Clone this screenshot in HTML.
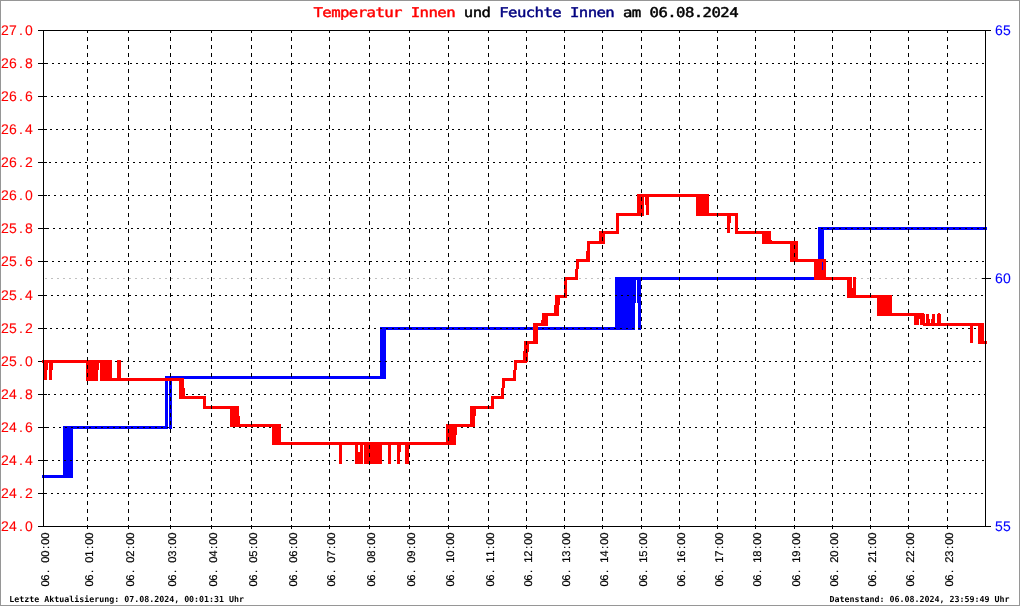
<!DOCTYPE html>
<html lang="de"><head><meta charset="utf-8"><title>Temperatur Innen und Feuchte Innen am 06.08.2024</title>
<style>html,body{margin:0;padding:0;background:#fff}svg{display:block}</style></head>
<body>
<svg width="1020" height="606" viewBox="0 0 1020 606" shape-rendering="crispEdges">
<rect x="0" y="0" width="1020" height="606" fill="#fff"/>
<rect x="0.5" y="0.5" width="1019" height="605" fill="none" stroke="#969696" stroke-width="1"/>
<path d="M45 278.5H985" stroke="#c0c0c0" stroke-width="1" stroke-dasharray="2 4" fill="none"/>
<g><rect x="42" y="475" width="24" height="3" fill="#0000ff"/><rect x="63" y="426" width="10" height="52" fill="#0000ff"/><rect x="63" y="426" width="105" height="3" fill="#0000ff"/><rect x="165" y="376" width="3" height="53" fill="#0000ff"/><rect x="169" y="376" width="3" height="53" fill="#0000ff"/><rect x="165" y="376" width="218" height="3" fill="#0000ff"/><rect x="380" y="327" width="6" height="52" fill="#0000ff"/><rect x="380" y="327" width="238" height="3" fill="#0000ff"/><rect x="615" y="277" width="20" height="53" fill="#0000ff"/><rect x="635" y="277" width="1" height="26" fill="#0000ff"/><rect x="637" y="277" width="1" height="26" fill="#0000ff"/><rect x="638" y="277" width="3" height="53" fill="#0000ff"/><rect x="615" y="277" width="207" height="3" fill="#0000ff"/><rect x="818" y="227" width="6" height="53" fill="#0000ff"/><rect x="818" y="227" width="169" height="3" fill="#0000ff"/></g>
<path d="M46 63.5H985M45 96.5H985M44 129.5H985M49 162.5H985M48 195.5H985M47 228.5H985M46 261.5H985M45 295.5H985M44 328.5H985M49 361.5H985M48 394.5H985M47 427.5H985M46 460.5H985M45 493.5H985" stroke="#000" stroke-width="1" stroke-dasharray="2 4" fill="none"/>
<path d="M38 63.5H47M38 96.5H47M38 129.5H47M38 162.5H47M38 195.5H47M38 228.5H47M38 261.5H47M38 295.5H47M38 328.5H47M38 361.5H47M38 394.5H47M38 427.5H47M38 460.5H47M38 493.5H47" stroke="#000" stroke-width="1" fill="none"/>
<g><rect x="42" y="360" width="46" height="3" fill="#ff0000"/><rect x="44" y="360" width="4" height="10" fill="#ff0000"/><rect x="44" y="360" width="3" height="20" fill="#ff0000"/><rect x="49" y="360" width="4" height="10" fill="#ff0000"/><rect x="49" y="360" width="3" height="20" fill="#ff0000"/><rect x="86" y="360" width="12" height="21" fill="#ff0000"/><rect x="100" y="360" width="12" height="21" fill="#ff0000"/><rect x="98" y="360" width="2" height="3" fill="#ff0000"/><rect x="98" y="360" width="1" height="10" fill="#ff0000"/><rect x="100" y="378" width="82" height="3" fill="#ff0000"/><rect x="117" y="360" width="4" height="21" fill="#ff0000"/><rect x="179" y="378" width="5" height="21" fill="#ff0000"/><rect x="184" y="388" width="1" height="11" fill="#ff0000"/><rect x="183" y="396" width="23" height="3" fill="#ff0000"/><rect x="203" y="396" width="3" height="13" fill="#ff0000"/><rect x="203" y="406" width="30" height="3" fill="#ff0000"/><rect x="230" y="406" width="9" height="21" fill="#ff0000"/><rect x="239" y="416" width="1" height="11" fill="#ff0000"/><rect x="237" y="424" width="38" height="3" fill="#ff0000"/><rect x="272" y="424" width="9" height="21" fill="#ff0000"/><rect x="279" y="442" width="170" height="3" fill="#ff0000"/><rect x="339" y="442" width="3" height="22" fill="#ff0000"/><rect x="355" y="442" width="3" height="22" fill="#ff0000"/><rect x="360" y="442" width="3" height="22" fill="#ff0000"/><rect x="388" y="442" width="3" height="22" fill="#ff0000"/><rect x="397" y="442" width="3" height="22" fill="#ff0000"/><rect x="405" y="442" width="4" height="22" fill="#ff0000"/><rect x="358" y="452" width="2" height="12" fill="#ff0000"/><rect x="400" y="442" width="1" height="10" fill="#ff0000"/><rect x="364" y="442" width="18" height="22" fill="#ff0000"/><rect x="446" y="424" width="10" height="21" fill="#ff0000"/><rect x="456" y="424" width="1" height="11" fill="#ff0000"/><rect x="454" y="424" width="19" height="3" fill="#ff0000"/><rect x="470" y="406" width="5" height="21" fill="#ff0000"/><rect x="475" y="406" width="1" height="10" fill="#ff0000"/><rect x="473" y="406" width="21" height="3" fill="#ff0000"/><rect x="491" y="396" width="3" height="13" fill="#ff0000"/><rect x="491" y="396" width="13" height="3" fill="#ff0000"/><rect x="501" y="388" width="3" height="11" fill="#ff0000"/><rect x="502" y="378" width="3" height="10" fill="#ff0000"/><rect x="503" y="378" width="13" height="3" fill="#ff0000"/><rect x="513" y="370" width="3" height="11" fill="#ff0000"/><rect x="514" y="360" width="3" height="10" fill="#ff0000"/><rect x="515" y="360" width="12" height="3" fill="#ff0000"/><rect x="523" y="351" width="3" height="12" fill="#ff0000"/><rect x="524" y="341" width="3" height="10" fill="#ff0000"/><rect x="526" y="341" width="2" height="21" fill="#ff0000"/><rect x="528" y="341" width="1" height="11" fill="#ff0000"/><rect x="526" y="341" width="11" height="3" fill="#ff0000"/><rect x="533" y="323" width="5" height="21" fill="#ff0000"/><rect x="536" y="323" width="9" height="3" fill="#ff0000"/><rect x="542" y="313" width="6" height="13" fill="#ff0000"/><rect x="541" y="320" width="1" height="6" fill="#ff0000"/><rect x="546" y="313" width="12" height="3" fill="#ff0000"/><rect x="554" y="305" width="3" height="11" fill="#ff0000"/><rect x="555" y="295" width="3" height="10" fill="#ff0000"/><rect x="557" y="295" width="2" height="21" fill="#ff0000"/><rect x="559" y="295" width="1" height="10" fill="#ff0000"/><rect x="557" y="295" width="10" height="3" fill="#ff0000"/><rect x="564" y="277" width="3" height="21" fill="#ff0000"/><rect x="564" y="277" width="14" height="3" fill="#ff0000"/><rect x="575" y="269" width="3" height="11" fill="#ff0000"/><rect x="576" y="259" width="3" height="10" fill="#ff0000"/><rect x="577" y="259" width="13" height="3" fill="#ff0000"/><rect x="586" y="251" width="3" height="11" fill="#ff0000"/><rect x="587" y="241" width="3" height="10" fill="#ff0000"/><rect x="589" y="241" width="1" height="21" fill="#ff0000"/><rect x="588" y="241" width="15" height="3" fill="#ff0000"/><rect x="599" y="231" width="6" height="13" fill="#ff0000"/><rect x="602" y="231" width="17" height="3" fill="#ff0000"/><rect x="616" y="213" width="3" height="21" fill="#ff0000"/><rect x="616" y="213" width="25" height="3" fill="#ff0000"/><rect x="637" y="194" width="7" height="22" fill="#ff0000"/><rect x="641" y="194" width="58" height="3" fill="#ff0000"/><rect x="646" y="194" width="3" height="21" fill="#ff0000"/><rect x="645" y="194" width="1" height="11" fill="#ff0000"/><rect x="696" y="194" width="13" height="22" fill="#ff0000"/><rect x="707" y="213" width="31" height="3" fill="#ff0000"/><rect x="727" y="213" width="3" height="20" fill="#ff0000"/><rect x="730" y="213" width="1" height="10" fill="#ff0000"/><rect x="735" y="213" width="3" height="21" fill="#ff0000"/><rect x="735" y="231" width="29" height="3" fill="#ff0000"/><rect x="762" y="231" width="9" height="13" fill="#ff0000"/><rect x="771" y="240" width="1" height="4" fill="#ff0000"/><rect x="769" y="241" width="23" height="3" fill="#ff0000"/><rect x="790" y="241" width="8" height="21" fill="#ff0000"/><rect x="796" y="259" width="21" height="3" fill="#ff0000"/><rect x="814" y="259" width="12" height="21" fill="#ff0000"/><rect x="822" y="262" width="1" height="8" fill="#0000ff"/><rect x="824" y="277" width="26" height="3" fill="#ff0000"/><rect x="847" y="277" width="5" height="21" fill="#ff0000"/><rect x="853" y="277" width="3" height="21" fill="#ff0000"/><rect x="852" y="288" width="1" height="10" fill="#ff0000"/><rect x="854" y="295" width="26" height="3" fill="#ff0000"/><rect x="877" y="295" width="15" height="21" fill="#ff0000"/><rect x="889" y="313" width="27" height="3" fill="#ff0000"/><rect x="913" y="313" width="11" height="3" fill="#ff0000"/><rect x="914" y="313" width="5" height="12" fill="#ff0000"/><rect x="919" y="313" width="1" height="6" fill="#ff0000"/><rect x="920" y="314" width="5" height="11" fill="#ff0000"/><rect x="926" y="314" width="3" height="9" fill="#ff0000"/><rect x="929" y="319" width="1" height="4" fill="#ff0000"/><rect x="932" y="314" width="3" height="9" fill="#ff0000"/><rect x="931" y="319" width="1" height="4" fill="#ff0000"/><rect x="937" y="314" width="4" height="9" fill="#ff0000"/><rect x="938" y="313" width="2" height="1" fill="#ff0000"/><rect x="923" y="323" width="60" height="3" fill="#ff0000"/><rect x="970" y="323" width="3" height="20" fill="#ff0000"/><rect x="978" y="323" width="6" height="21" fill="#ff0000"/><rect x="978" y="341" width="9" height="3" fill="#ff0000"/></g>
<path d="M87.5 30V529M128.5 30V529M170.5 30V529M211.5 30V529M251.5 30V529M291.5 30V529M329.5 30V529M369.5 30V529M409.5 30V529M448.5 30V529M488.5 30V529M526.5 30V529M564.5 30V529M602.5 30V529M641.5 30V529M679.5 30V529M717.5 30V529M755.5 30V529M794.5 30V529M832.5 30V529M870.5 30V529M908.5 30V529M947.5 30V529" stroke="#000" stroke-width="1" stroke-dasharray="4 4" stroke-dashoffset="1" fill="none"/>
<path d="M38 30.5H991M38 526.5H991M43.5 30V527M985.5 30V527" stroke="#000" stroke-width="1" fill="none"/>
<path d="M982 278.5H991" stroke="#000" stroke-width="1" fill="none"/>
<g font-family="'DejaVu Sans Mono','Liberation Mono',monospace" shape-rendering="auto" text-rendering="geometricPrecision" style="opacity:0.999">
<text x="1.11 9.11 19.05 25.11" y="35" font-size="14" fill="#ff0000" stroke="#ff0000" stroke-width="0.1" font-family="'Liberation Sans',Arial,sans-serif"  xml:space="preserve">27.0</text>
<text x="1.11 9.11 19.05 25.11" y="68" font-size="14" fill="#ff0000" stroke="#ff0000" stroke-width="0.1" font-family="'Liberation Sans',Arial,sans-serif"  xml:space="preserve">26.8</text>
<text x="1.11 9.11 19.05 25.11" y="101" font-size="14" fill="#ff0000" stroke="#ff0000" stroke-width="0.1" font-family="'Liberation Sans',Arial,sans-serif"  xml:space="preserve">26.6</text>
<text x="1.11 9.11 19.05 25.11" y="134" font-size="14" fill="#ff0000" stroke="#ff0000" stroke-width="0.1" font-family="'Liberation Sans',Arial,sans-serif"  xml:space="preserve">26.4</text>
<text x="1.11 9.11 19.05 25.11" y="167" font-size="14" fill="#ff0000" stroke="#ff0000" stroke-width="0.1" font-family="'Liberation Sans',Arial,sans-serif"  xml:space="preserve">26.2</text>
<text x="1.11 9.11 19.05 25.11" y="200" font-size="14" fill="#ff0000" stroke="#ff0000" stroke-width="0.1" font-family="'Liberation Sans',Arial,sans-serif"  xml:space="preserve">26.0</text>
<text x="1.11 9.11 19.05 25.11" y="233" font-size="14" fill="#ff0000" stroke="#ff0000" stroke-width="0.1" font-family="'Liberation Sans',Arial,sans-serif"  xml:space="preserve">25.8</text>
<text x="1.11 9.11 19.05 25.11" y="266" font-size="14" fill="#ff0000" stroke="#ff0000" stroke-width="0.1" font-family="'Liberation Sans',Arial,sans-serif"  xml:space="preserve">25.6</text>
<text x="1.11 9.11 19.05 25.11" y="300" font-size="14" fill="#ff0000" stroke="#ff0000" stroke-width="0.1" font-family="'Liberation Sans',Arial,sans-serif"  xml:space="preserve">25.4</text>
<text x="1.11 9.11 19.05 25.11" y="333" font-size="14" fill="#ff0000" stroke="#ff0000" stroke-width="0.1" font-family="'Liberation Sans',Arial,sans-serif"  xml:space="preserve">25.2</text>
<text x="1.11 9.11 19.05 25.11" y="366" font-size="14" fill="#ff0000" stroke="#ff0000" stroke-width="0.1" font-family="'Liberation Sans',Arial,sans-serif"  xml:space="preserve">25.0</text>
<text x="1.11 9.11 19.05 25.11" y="399" font-size="14" fill="#ff0000" stroke="#ff0000" stroke-width="0.1" font-family="'Liberation Sans',Arial,sans-serif"  xml:space="preserve">24.8</text>
<text x="1.11 9.11 19.05 25.11" y="432" font-size="14" fill="#ff0000" stroke="#ff0000" stroke-width="0.1" font-family="'Liberation Sans',Arial,sans-serif"  xml:space="preserve">24.6</text>
<text x="1.11 9.11 19.05 25.11" y="465" font-size="14" fill="#ff0000" stroke="#ff0000" stroke-width="0.1" font-family="'Liberation Sans',Arial,sans-serif"  xml:space="preserve">24.4</text>
<text x="1.11 9.11 19.05 25.11" y="498" font-size="14" fill="#ff0000" stroke="#ff0000" stroke-width="0.1" font-family="'Liberation Sans',Arial,sans-serif"  xml:space="preserve">24.2</text>
<text x="1.11 9.11 19.05 25.11" y="531" font-size="14" fill="#ff0000" stroke="#ff0000" stroke-width="0.1" font-family="'Liberation Sans',Arial,sans-serif"  xml:space="preserve">24.0</text>
<text x="995.11 1003.11" y="35" font-size="14" fill="#0000ff" stroke="#0000ff" stroke-width="0.1" font-family="'Liberation Sans',Arial,sans-serif"  xml:space="preserve">65</text>
<text x="995.11 1003.11" y="283" font-size="14" fill="#0000ff" stroke="#0000ff" stroke-width="0.1" font-family="'Liberation Sans',Arial,sans-serif"  xml:space="preserve">60</text>
<text x="995.11 1003.11" y="531" font-size="14" fill="#0000ff" stroke="#0000ff" stroke-width="0.1" font-family="'Liberation Sans',Arial,sans-serif"  xml:space="preserve">55</text>
<g transform="translate(48.6,586.5) rotate(-90)"><text x="-0.11 5.89 13.44 19.44 23.89 29.89 37.44 41.89 47.89" y="0" font-size="11.2" fill="#000" stroke="#000" stroke-width="0.2" font-family="'Liberation Sans',Arial,sans-serif"  xml:space="preserve">06. 00:00</text></g>
<g transform="translate(92.6,586.5) rotate(-90)"><text x="-0.11 5.89 13.44 19.44 23.89 29.89 37.44 41.89 47.89" y="0" font-size="11.2" fill="#000" stroke="#000" stroke-width="0.2" font-family="'Liberation Sans',Arial,sans-serif"  xml:space="preserve">06. 01:00</text></g>
<g transform="translate(133.6,586.5) rotate(-90)"><text x="-0.11 5.89 13.44 19.44 23.89 29.89 37.44 41.89 47.89" y="0" font-size="11.2" fill="#000" stroke="#000" stroke-width="0.2" font-family="'Liberation Sans',Arial,sans-serif"  xml:space="preserve">06. 02:00</text></g>
<g transform="translate(175.6,586.5) rotate(-90)"><text x="-0.11 5.89 13.44 19.44 23.89 29.89 37.44 41.89 47.89" y="0" font-size="11.2" fill="#000" stroke="#000" stroke-width="0.2" font-family="'Liberation Sans',Arial,sans-serif"  xml:space="preserve">06. 03:00</text></g>
<g transform="translate(216.6,586.5) rotate(-90)"><text x="-0.11 5.89 13.44 19.44 23.89 29.89 37.44 41.89 47.89" y="0" font-size="11.2" fill="#000" stroke="#000" stroke-width="0.2" font-family="'Liberation Sans',Arial,sans-serif"  xml:space="preserve">06. 04:00</text></g>
<g transform="translate(256.6,586.5) rotate(-90)"><text x="-0.11 5.89 13.44 19.44 23.89 29.89 37.44 41.89 47.89" y="0" font-size="11.2" fill="#000" stroke="#000" stroke-width="0.2" font-family="'Liberation Sans',Arial,sans-serif"  xml:space="preserve">06. 05:00</text></g>
<g transform="translate(296.6,586.5) rotate(-90)"><text x="-0.11 5.89 13.44 19.44 23.89 29.89 37.44 41.89 47.89" y="0" font-size="11.2" fill="#000" stroke="#000" stroke-width="0.2" font-family="'Liberation Sans',Arial,sans-serif"  xml:space="preserve">06. 06:00</text></g>
<g transform="translate(334.6,586.5) rotate(-90)"><text x="-0.11 5.89 13.44 19.44 23.89 29.89 37.44 41.89 47.89" y="0" font-size="11.2" fill="#000" stroke="#000" stroke-width="0.2" font-family="'Liberation Sans',Arial,sans-serif"  xml:space="preserve">06. 07:00</text></g>
<g transform="translate(374.6,586.5) rotate(-90)"><text x="-0.11 5.89 13.44 19.44 23.89 29.89 37.44 41.89 47.89" y="0" font-size="11.2" fill="#000" stroke="#000" stroke-width="0.2" font-family="'Liberation Sans',Arial,sans-serif"  xml:space="preserve">06. 08:00</text></g>
<g transform="translate(414.6,586.5) rotate(-90)"><text x="-0.11 5.89 13.44 19.44 23.89 29.89 37.44 41.89 47.89" y="0" font-size="11.2" fill="#000" stroke="#000" stroke-width="0.2" font-family="'Liberation Sans',Arial,sans-serif"  xml:space="preserve">06. 09:00</text></g>
<g transform="translate(453.6,586.5) rotate(-90)"><text x="-0.11 5.89 13.44 19.44 23.89 29.89 37.44 41.89 47.89" y="0" font-size="11.2" fill="#000" stroke="#000" stroke-width="0.2" font-family="'Liberation Sans',Arial,sans-serif"  xml:space="preserve">06. 10:00</text></g>
<g transform="translate(493.6,586.5) rotate(-90)"><text x="-0.11 5.89 13.44 19.44 23.89 29.89 37.44 41.89 47.89" y="0" font-size="11.2" fill="#000" stroke="#000" stroke-width="0.2" font-family="'Liberation Sans',Arial,sans-serif"  xml:space="preserve">06. 11:00</text></g>
<g transform="translate(531.6,586.5) rotate(-90)"><text x="-0.11 5.89 13.44 19.44 23.89 29.89 37.44 41.89 47.89" y="0" font-size="11.2" fill="#000" stroke="#000" stroke-width="0.2" font-family="'Liberation Sans',Arial,sans-serif"  xml:space="preserve">06. 12:00</text></g>
<g transform="translate(569.6,586.5) rotate(-90)"><text x="-0.11 5.89 13.44 19.44 23.89 29.89 37.44 41.89 47.89" y="0" font-size="11.2" fill="#000" stroke="#000" stroke-width="0.2" font-family="'Liberation Sans',Arial,sans-serif"  xml:space="preserve">06. 13:00</text></g>
<g transform="translate(607.6,586.5) rotate(-90)"><text x="-0.11 5.89 13.44 19.44 23.89 29.89 37.44 41.89 47.89" y="0" font-size="11.2" fill="#000" stroke="#000" stroke-width="0.2" font-family="'Liberation Sans',Arial,sans-serif"  xml:space="preserve">06. 14:00</text></g>
<g transform="translate(646.6,586.5) rotate(-90)"><text x="-0.11 5.89 13.44 19.44 23.89 29.89 37.44 41.89 47.89" y="0" font-size="11.2" fill="#000" stroke="#000" stroke-width="0.2" font-family="'Liberation Sans',Arial,sans-serif"  xml:space="preserve">06. 15:00</text></g>
<g transform="translate(684.6,586.5) rotate(-90)"><text x="-0.11 5.89 13.44 19.44 23.89 29.89 37.44 41.89 47.89" y="0" font-size="11.2" fill="#000" stroke="#000" stroke-width="0.2" font-family="'Liberation Sans',Arial,sans-serif"  xml:space="preserve">06. 16:00</text></g>
<g transform="translate(722.6,586.5) rotate(-90)"><text x="-0.11 5.89 13.44 19.44 23.89 29.89 37.44 41.89 47.89" y="0" font-size="11.2" fill="#000" stroke="#000" stroke-width="0.2" font-family="'Liberation Sans',Arial,sans-serif"  xml:space="preserve">06. 17:00</text></g>
<g transform="translate(760.6,586.5) rotate(-90)"><text x="-0.11 5.89 13.44 19.44 23.89 29.89 37.44 41.89 47.89" y="0" font-size="11.2" fill="#000" stroke="#000" stroke-width="0.2" font-family="'Liberation Sans',Arial,sans-serif"  xml:space="preserve">06. 18:00</text></g>
<g transform="translate(799.6,586.5) rotate(-90)"><text x="-0.11 5.89 13.44 19.44 23.89 29.89 37.44 41.89 47.89" y="0" font-size="11.2" fill="#000" stroke="#000" stroke-width="0.2" font-family="'Liberation Sans',Arial,sans-serif"  xml:space="preserve">06. 19:00</text></g>
<g transform="translate(837.6,586.5) rotate(-90)"><text x="-0.11 5.89 13.44 19.44 23.89 29.89 37.44 41.89 47.89" y="0" font-size="11.2" fill="#000" stroke="#000" stroke-width="0.2" font-family="'Liberation Sans',Arial,sans-serif"  xml:space="preserve">06. 20:00</text></g>
<g transform="translate(875.6,586.5) rotate(-90)"><text x="-0.11 5.89 13.44 19.44 23.89 29.89 37.44 41.89 47.89" y="0" font-size="11.2" fill="#000" stroke="#000" stroke-width="0.2" font-family="'Liberation Sans',Arial,sans-serif"  xml:space="preserve">06. 21:00</text></g>
<g transform="translate(913.6,586.5) rotate(-90)"><text x="-0.11 5.89 13.44 19.44 23.89 29.89 37.44 41.89 47.89" y="0" font-size="11.2" fill="#000" stroke="#000" stroke-width="0.2" font-family="'Liberation Sans',Arial,sans-serif"  xml:space="preserve">06. 22:00</text></g>
<g transform="translate(952.6,586.5) rotate(-90)"><text x="-0.11 5.89 13.44 19.44 23.89 29.89 37.44 41.89 47.89" y="0" font-size="11.2" fill="#000" stroke="#000" stroke-width="0.2" font-family="'Liberation Sans',Arial,sans-serif"  xml:space="preserve">06. 23:00</text></g>
<text x="313.5" y="17.4" font-size="13.4" letter-spacing="-0.5" textLength="424.5" lengthAdjust="spacingAndGlyphs" stroke-width="0.45" xml:space="preserve"><tspan fill="#ff0000" stroke="#ff0000">Temperatur Innen</tspan><tspan fill="#000" stroke="#000"> und </tspan><tspan fill="#000080" stroke="#000080">Feuchte Innen</tspan><tspan fill="#000" stroke="#000"> am 06.08.2024</tspan></text>
<text x="9.3" y="602" font-size="8.3" font-weight="bold" fill="#000">Letzte Aktualisierung: 07.08.2024, 00:01:31 Uhr</text>
<text x="829.6" y="602" font-size="8.3" font-weight="bold" fill="#000">Datenstand: 06.08.2024, 23:59:49 Uhr</text>
</g>
</svg>
</body></html>
